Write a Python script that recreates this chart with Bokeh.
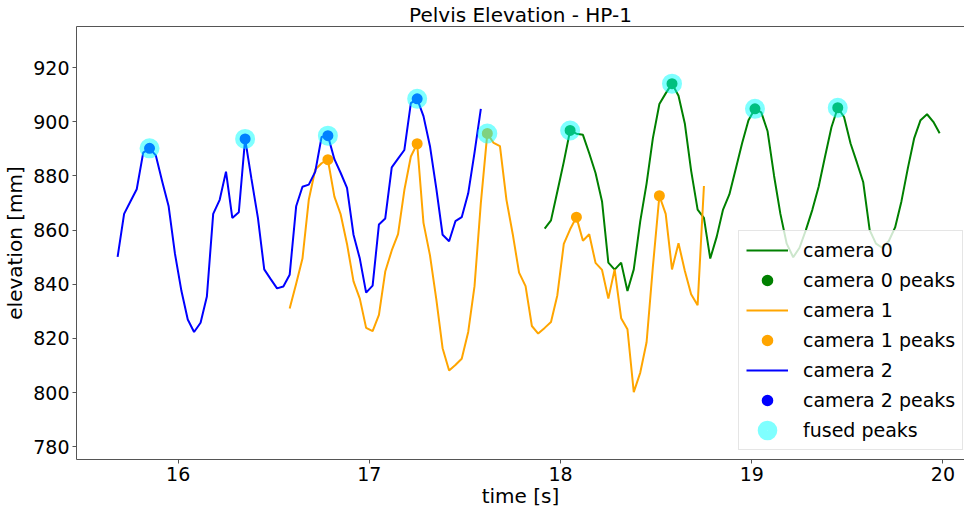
from bokeh.plotting import figure
from bokeh.models import Range1d, FixedTicker, Legend, LegendItem, LinearAxis
from bokeh.embed import file_html
from bokeh.resources import INLINE

# ---- data ----
cam0_t = [17.917, 17.950, 17.983, 18.017, 18.050, 18.083, 18.117, 18.150, 18.183, 18.217,
          18.250, 18.283, 18.317, 18.350, 18.383, 18.417, 18.450, 18.483, 18.517, 18.550,
          18.583, 18.617, 18.650, 18.683, 18.717, 18.750, 18.783, 18.817, 18.850, 18.883,
          18.917, 18.950, 18.983, 19.017, 19.050, 19.083, 19.117, 19.150, 19.183, 19.217,
          19.250, 19.283, 19.317, 19.350, 19.383, 19.417, 19.450, 19.483, 19.517, 19.550,
          19.583, 19.617, 19.650, 19.683, 19.717, 19.750, 19.783, 19.817, 19.850, 19.883,
          19.917, 19.950, 19.983]
cam0_v = [860.6, 863.6, 874.2, 885.2, 896.8, 895.6, 895.2, 888.4, 881.1, 870.6,
          848.0, 845.4, 848.0, 837.5, 845.5, 863.3, 877.2, 894.0, 906.6, 910.5,
          914.1, 909.6, 899.4, 882.0, 867.6, 864.5, 849.5, 857.6, 867.6, 873.2,
          882.8, 892.2, 900.6, 904.8, 903.5, 896.5, 880.0, 866.0, 855.0, 850.0,
          853.5, 860.0, 867.5, 876.0, 887.0, 898.0, 905.2, 901.8, 892.0, 885.0,
          877.8, 860.0, 855.0, 853.5, 856.0, 861.0, 870.6, 883.0, 894.0, 900.6,
          902.8, 900.0, 895.8]

cam1_t = [16.583, 16.617, 16.650, 16.683, 16.717, 16.750, 16.783, 16.817, 16.850, 16.883,
          16.917, 16.950, 16.983, 17.017, 17.050, 17.083, 17.117, 17.150, 17.183, 17.217,
          17.250, 17.283, 17.317, 17.350, 17.383, 17.417, 17.450, 17.483, 17.517, 17.550,
          17.583, 17.617, 17.650, 17.683, 17.717, 17.750, 17.783, 17.817, 17.850, 17.883,
          17.917, 17.950, 17.983, 18.017, 18.050, 18.083, 18.117, 18.150, 18.183, 18.217,
          18.250, 18.283, 18.317, 18.350, 18.383, 18.417, 18.450, 18.483, 18.517, 18.550,
          18.583, 18.617, 18.650, 18.683, 18.717, 18.750]
cam1_v = [831.1, 840.2, 849.5, 871.2, 882.4, 884.7, 886.0, 872.4, 865.8, 854.9,
          841.1, 834.7, 823.9, 822.7, 828.7, 844.7, 852.5, 858.5, 874.8, 887.2,
          891.9, 862.7, 850.7, 834.5, 816.4, 808.2, 810.2, 812.5, 822.4, 839.3,
          870.0, 895.7, 892.2, 891.0, 871.2, 858.5, 844.3, 839.3, 824.6, 821.8,
          823.9, 826.1, 835.9, 854.9, 860.3, 864.8, 856.1, 858.5, 847.9, 845.3,
          834.7, 845.5, 827.5, 823.4, 800.2, 807.4, 818.6, 846.5, 872.7, 866.0,
          845.5, 855.2, 845.0, 836.3, 832.3, 876.3]

cam2_t = [15.683, 15.717, 15.750, 15.783, 15.817, 15.850, 15.883, 15.917, 15.950, 15.983,
          16.017, 16.050, 16.083, 16.117, 16.150, 16.183, 16.217, 16.250, 16.283, 16.317,
          16.350, 16.383, 16.417, 16.450, 16.483, 16.517, 16.550, 16.583, 16.617, 16.650,
          16.683, 16.717, 16.750, 16.783, 16.817, 16.850, 16.883, 16.917, 16.950, 16.983,
          17.017, 17.050, 17.083, 17.117, 17.150, 17.183, 17.217, 17.250, 17.283, 17.317,
          17.350, 17.383, 17.417, 17.450, 17.483, 17.517, 17.550, 17.583]
cam2_v = [850.1, 866.0, 870.6, 875.1, 888.6, 890.2, 887.6, 877.8, 868.8, 851.3,
          837.5, 827.0, 822.4, 825.8, 835.5, 866.0, 871.2, 881.6, 864.5, 866.6,
          893.7, 879.0, 864.5, 845.5, 842.0, 838.5, 839.2, 843.5, 868.8, 876.0,
          876.8, 881.6, 894.4, 894.9, 886.2, 881.1, 875.6, 858.3, 849.5, 836.9,
          839.5, 862.1, 864.3, 883.2, 886.4, 889.6, 906.9, 908.5, 902.1, 891.0,
          875.4, 858.3, 855.9, 863.3, 864.8, 873.6, 888.6, 904.8]

peaks0_t = [18.050, 18.583, 19.017, 19.450]
peaks0_v = [896.8, 914.1, 904.8, 905.2]
peaks1_t = [16.783, 17.250, 17.617, 18.083, 18.517]
peaks1_v = [886.0, 891.9, 895.7, 864.8, 872.7]
peaks2_t = [15.850, 16.350, 16.783, 17.250]
peaks2_v = [890.2, 893.7, 894.9, 908.5]
fused_t = [15.850, 16.350, 16.783, 17.250, 17.617, 18.050, 18.583, 19.017, 19.450]
fused_v = [890.2, 893.7, 894.9, 908.5, 895.7, 896.8, 914.1, 904.8, 905.2]

x_ticks = [16, 17, 18, 19, 20]
y_ticks = [780, 800, 820, 840, 860, 880, 900, 920]

FONT = "DejaVu Sans"
SPINE = "#555555"

p = figure(width=964, height=510, output_backend="svg", toolbar_location=None,
           x_range=Range1d(15.468, 20.113), y_range=Range1d(775.3, 935.2),
           title="Pelvis Elevation - HP-1",
           min_border_left=71, min_border_right=0, min_border_top=23, min_border_bottom=40)

p.title.text_font = FONT
p.title.text_font_size = "20px"
p.title.text_font_style = "normal"
p.title.text_color = "black"
p.title.align = "center"
p.title.standoff = 0
p.title.offset = 0

p.grid.visible = False
p.outline_line_color = None
p.background_fill_color = "white"
p.border_fill_color = "white"

for ax in (p.xaxis[0], p.yaxis[0]):
    ax.axis_line_color = SPINE
    ax.axis_line_width = 1
    ax.major_tick_line_color = SPINE
    ax.major_tick_out = 4
    ax.major_tick_in = 0
    ax.minor_tick_out = 0
    ax.minor_tick_in = 0
    ax.major_label_text_font = FONT
    ax.major_label_text_font_size = "19px"
    ax.major_label_text_color = "black"
    ax.major_label_standoff = 3
    ax.axis_label_text_font = FONT
    ax.axis_label_text_font_size = "20px"
    ax.axis_label_text_font_style = "normal"
    ax.axis_label_text_color = "black"
    ax.axis_label_standoff = 0

p.xaxis.ticker = FixedTicker(ticks=x_ticks)
p.yaxis.ticker = FixedTicker(ticks=y_ticks)
p.xaxis.axis_label = "time [s]"
p.yaxis.axis_label = "elevation [mm]"
p.yaxis.axis_label_standoff = 3

top = LinearAxis(ticker=FixedTicker(ticks=[]), axis_line_color=SPINE,
                 major_tick_out=0, major_tick_in=0, minor_tick_out=0, minor_tick_in=0,
                 major_label_text_font_size="0px", major_label_standoff=0)
p.add_layout(top, "above")

l0 = p.line(cam0_t, cam0_v, line_color="green", line_width=2)
s0 = p.scatter(peaks0_t, peaks0_v, size=9, fill_color="green", line_color="green", line_width=2)
l1 = p.line(cam1_t, cam1_v, line_color="orange", line_width=2)
s1 = p.scatter(peaks1_t, peaks1_v, size=9, fill_color="orange", line_color="orange", line_width=2)
l2 = p.line(cam2_t, cam2_v, line_color="blue", line_width=2)
s2 = p.scatter(peaks2_t, peaks2_v, size=9, fill_color="blue", line_color="blue", line_width=2)
sf = p.scatter(fused_t, fused_v, size=10, fill_color=None, line_color="cyan",
               line_alpha=0.5, line_width=10)

legend = Legend(items=[
    LegendItem(label="camera 0", renderers=[l0]),
    LegendItem(label="camera 0 peaks", renderers=[s0]),
    LegendItem(label="camera 1", renderers=[l1]),
    LegendItem(label="camera 1 peaks", renderers=[s1]),
    LegendItem(label="camera 2", renderers=[l2]),
    LegendItem(label="camera 2 peaks", renderers=[s2]),
    LegendItem(label="fused peaks", renderers=[sf]),
], location=(662, 9))
legend.label_text_font = FONT
legend.label_text_font_size = "19px"
legend.label_text_color = "black"
legend.glyph_width = 42
legend.glyph_height = 24
legend.label_height = 24
legend.spacing = 6
legend.padding = 7
legend.margin = 0
legend.label_standoff = 15
legend.border_line_color = "#cccccc"
legend.background_fill_alpha = 0.8
p.add_layout(legend, "center")

open("out.html", "w").write(file_html(p, INLINE))
